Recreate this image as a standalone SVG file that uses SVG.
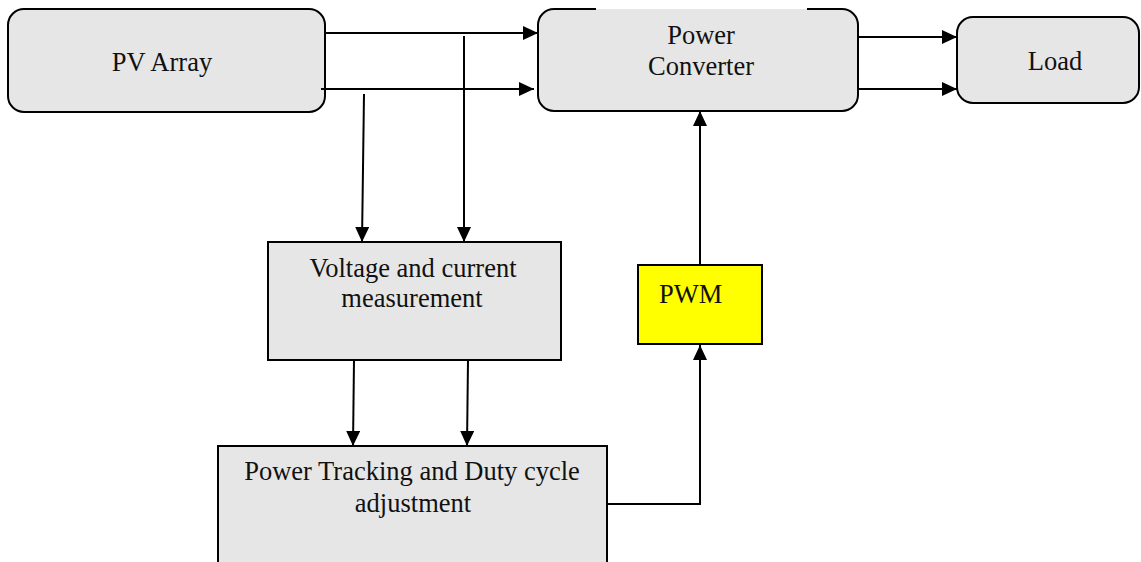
<svg xmlns="http://www.w3.org/2000/svg" width="1141" height="562" viewBox="0 0 1141 562">
  <style>
    .box { fill: #E6E6E6; stroke: #000; stroke-width: 2; }
    .nofill { fill: none; stroke: #000; stroke-width: 2; }
    .lbl { font-family: "Liberation Serif", "Times New Roman", serif; font-size: 26.5px; fill: #111; }
    .c { text-anchor: middle; }
    .conn { fill: none; stroke: #000; stroke-width: 2; }
    .arr { marker-end: url(#ah); }
  </style>
  <defs>
    <marker id="ah" markerUnits="userSpaceOnUse" markerWidth="15" markerHeight="14" refX="15" refY="7" orient="auto">
      <path d="M0,0 L15,7 L0,14 Z" fill="#000"/>
    </marker>
  </defs>
  <rect width="1141" height="562" fill="#fff"/>

  <g id="pv-array">
    <rect class="box" x="8" y="9" width="317" height="103" rx="16" ry="16"/>
    <text class="lbl c" x="162" y="71">PV Array</text>
  </g>

  <g id="power-converter">
    <rect x="538" y="9" width="320" height="102" rx="16" ry="16" fill="#E6E6E6"/>
    <path class="nofill" d="M807,9 H842 A16,16 0 0 1 858,25 V95 A16,16 0 0 1 842,111 H554 A16,16 0 0 1 538,95 V25 A16,16 0 0 1 554,9 H596"/>
    <text class="lbl c" x="701" y="44">Power</text>
    <text class="lbl c" x="701" y="75">Converter</text>
  </g>

  <g id="load">
    <rect class="box" x="957" y="17" width="182" height="86" rx="16" ry="16"/>
    <text class="lbl c" x="1055" y="70">Load</text>
  </g>

  <g id="measurement">
    <rect class="box" x="268" y="242" width="293" height="118"/>
    <text class="lbl c" x="413" y="277">Voltage and current</text>
    <text class="lbl c" x="412" y="307">measurement</text>
  </g>

  <g id="pwm">
    <rect x="638" y="265" width="124" height="79" fill="#FFFF00" stroke="#000" stroke-width="2"/>
    <text class="lbl" x="659" y="303">PWM</text>
  </g>

  <g id="tracking">
    <rect class="box" x="218" y="446" width="389" height="130"/>
    <text class="lbl c" x="412" y="480">Power Tracking and Duty cycle</text>
    <text class="lbl c" x="413" y="512">adjustment</text>
  </g>

  <g id="connectors">
    <path class="conn arr" d="M325,33 H538"/>
    <path class="conn arr" d="M321,89 H534"/>
    <path class="conn arr" d="M464,36 V242"/>
    <path class="conn arr" d="M364,94 L362,242"/>
    <path class="conn arr" d="M354,360 L353,446"/>
    <path class="conn arr" d="M468,360 L467,446"/>
    <path class="conn arr" d="M607,504 H700 V345"/>
    <path class="conn arr" d="M700,265 V111"/>
    <path class="conn arr" d="M858,37 H957"/>
    <path class="conn arr" d="M858,89 H957"/>
  </g>
</svg>
